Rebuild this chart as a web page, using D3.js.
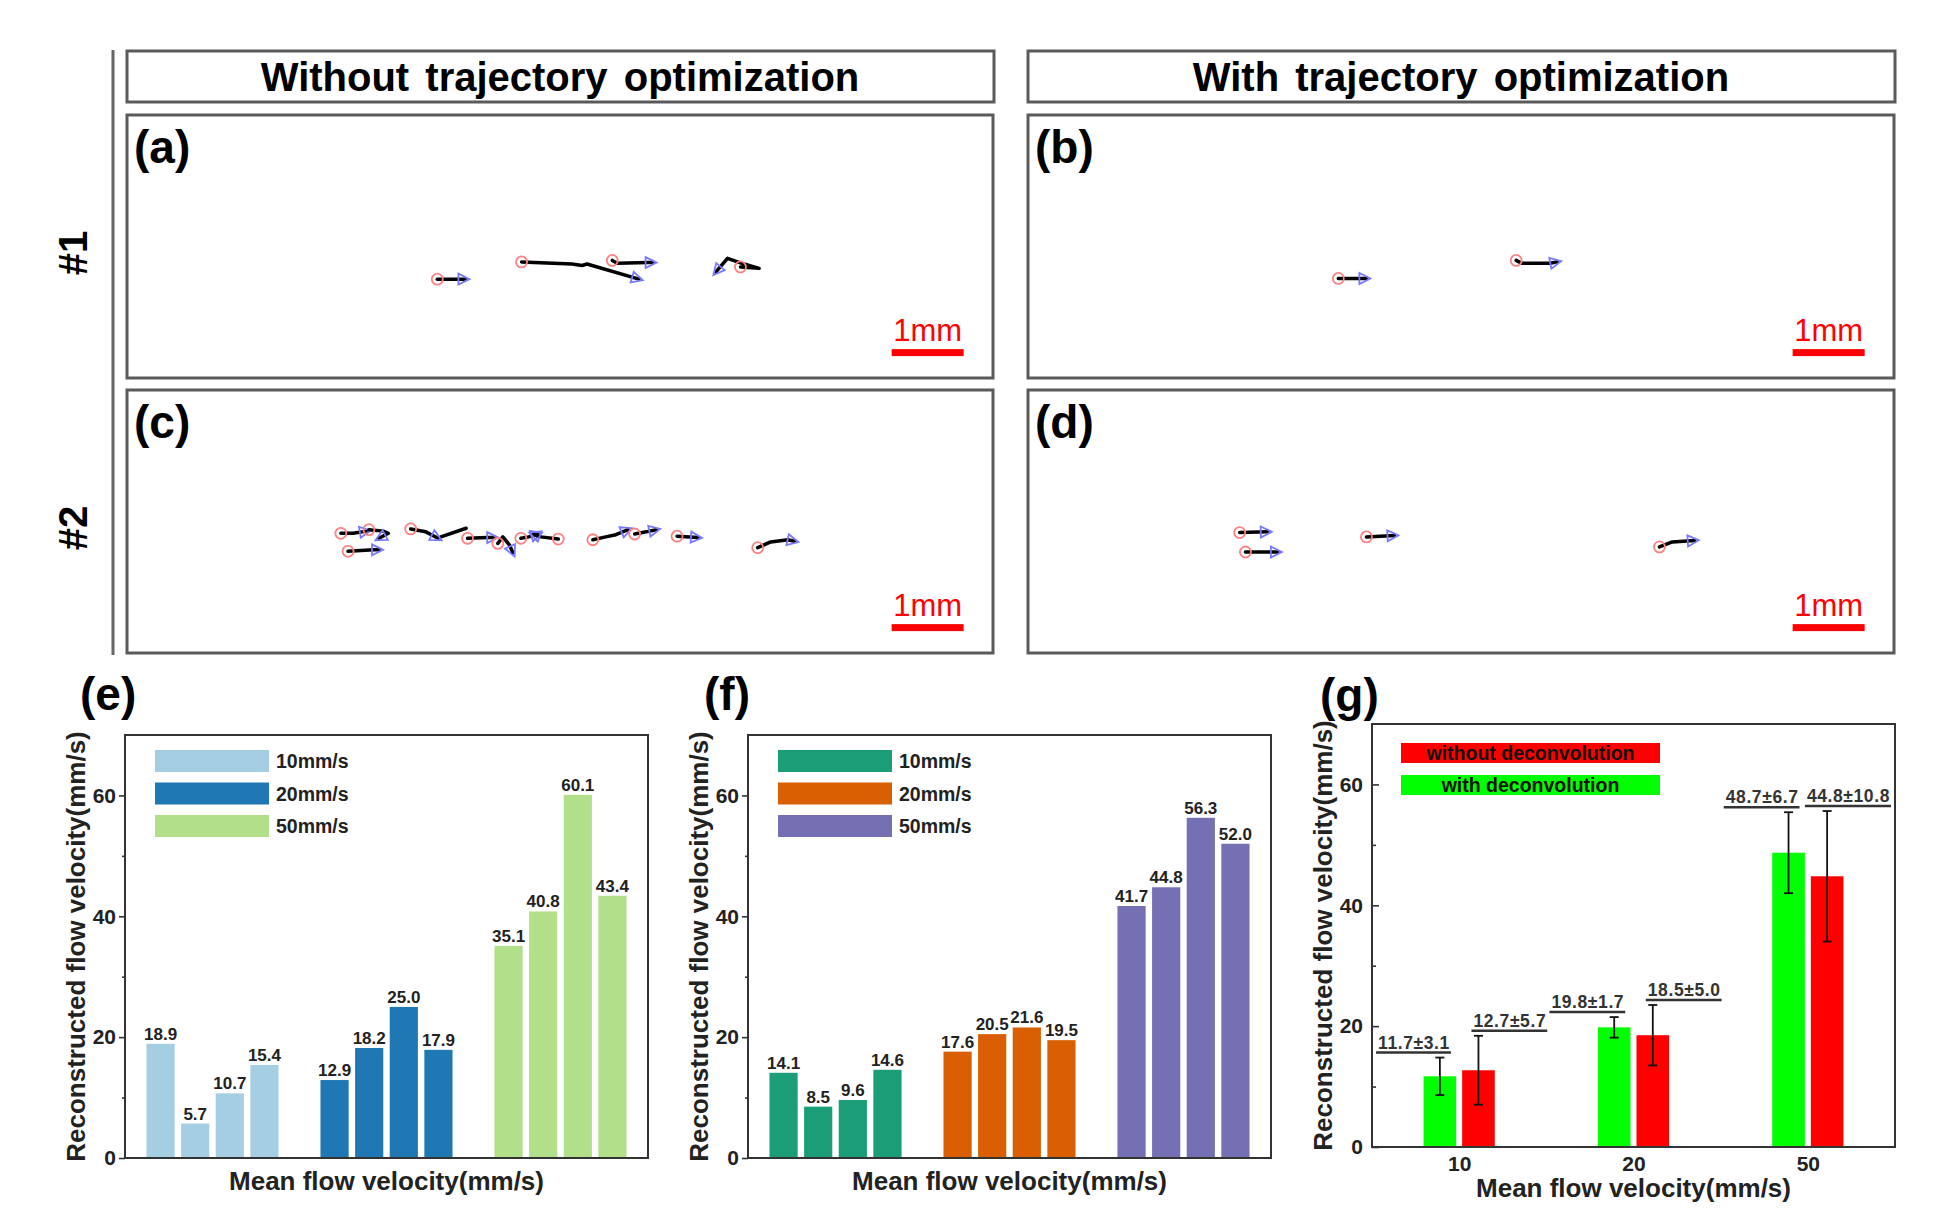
<!DOCTYPE html>
<html>
<head>
<meta charset="utf-8">
<script src="https://cdn.jsdelivr.net/npm/d3@7"></script>
<style>
  body { margin: 0; background: #fff; }
  text { font-family: "Liberation Sans", Arial, sans-serif; }
</style>
</head>
<body>
<svg id="fig" width="1934" height="1227"></svg>
<script>
// ---------- data ----------
const speeds = ["10mm/s", "20mm/s", "50mm/s"];
const repeats = [0, 1, 2, 3];
const velocityE = [[18.9, 5.7, 10.7, 15.4], [12.9, 18.2, 25.0, 17.9], [35.1, 40.8, 60.1, 43.4]];
const velocityF = [[14.1, 8.5, 9.6, 14.6], [17.6, 20.5, 21.6, 19.5], [41.7, 44.8, 56.3, 52.0]];
const yTicks = [0, 20, 40, 60];
const yMinor = [10, 30, 50];

const meanFlow = [10, 20, 50];
const withDeconv = [11.7, 19.8, 48.7];
const withDeconvErr = [3.1, 1.7, 6.7];
const withoutDeconv = [12.7, 18.5, 44.8];
const withoutDeconvErr = [5.7, 5.0, 10.8];

// particle trajectories, [x, y] in mm inside the field of view
const trajA = [
  [[4.31, 2.28], [4.70, 2.28]],
  [[5.48, 2.04], [6.18, 2.07], [6.32, 2.09], [6.39, 2.07], [6.46, 2.09], [7.11, 2.28]],
  [[6.74, 2.02], [6.81, 2.06], [7.23, 2.05], [7.30, 2.05]],
  [[8.52, 2.11], [8.78, 2.13], [8.57, 2.07], [8.34, 1.99], [8.18, 2.18]]
];
const trajB = [
  [[4.31, 2.27], [4.70, 2.27]],
  [[6.78, 2.02], [6.86, 2.06], [7.25, 2.06], [7.35, 2.04]]
];
const trajC = [
  [[2.97, 1.99], [3.14, 1.99], [3.33, 1.96]],
  [[3.36, 1.94], [3.56, 1.96], [3.63, 1.99], [3.50, 2.06]],
  [[3.07, 2.24], [3.43, 2.22], [3.50, 2.22]],
  [[3.94, 1.93], [4.15, 1.97], [4.32, 2.06]],
  [[4.73, 2.06], [5.01, 2.05], [5.10, 2.05]],
  [[5.15, 2.13], [5.22, 2.04], [5.31, 2.15], [5.36, 2.26]],
  [[5.47, 2.06], [5.58, 2.04], [5.71, 2.00]],
  [[5.99, 2.07], [5.75, 2.04], [5.64, 2.00]],
  [[6.47, 2.08], [6.65, 2.04], [6.79, 2.01], [6.96, 1.94]],
  [[7.05, 2.00], [7.21, 1.97], [7.35, 1.94]],
  [[7.64, 2.03], [7.93, 2.05]],
  [[8.76, 2.19], [8.94, 2.11], [9.18, 2.08], [9.27, 2.10]]
];
const strayC = [[[4.36, 2.04], [4.71, 1.92]]];
const trajD = [
  [[2.94, 1.98], [3.33, 1.97]],
  [[3.02, 2.25], [3.47, 2.25]],
  [[4.70, 2.04], [5.09, 2.02]],
  [[8.77, 2.18], [8.95, 2.11], [9.26, 2.09]]
];

const colorsE = ["#a6cee3", "#1f78b4", "#b2df8a"];
const colorsF = ["#1b9e77", "#d95f02", "#7570b3"];

// ---------- layout ----------
const svg = d3.select("#fig");
const PANEL_W = 866, PANEL_H = 263, PX_PER_MM = 72;
const FIELD_W = PANEL_W / PX_PER_MM, FIELD_H = PANEL_H / PX_PER_MM;
const bold = "bold";

// left divider
svg.append("line").attr("x1", 113).attr("x2", 113).attr("y1", 50).attr("y2", 655)
  .attr("stroke", "#666").attr("stroke-width", 3);

svg.append("text").attr("transform", "translate(87,253) rotate(-90)")
  .attr("text-anchor", "middle").attr("font-size", 40).attr("font-weight", bold).text("#1");
svg.append("text").attr("transform", "translate(87,528) rotate(-90)")
  .attr("text-anchor", "middle").attr("font-size", 40).attr("font-weight", bold).text("#2");

// header boxes
const headers = [
  {x: 127, text: "Without trajectory optimization"},
  {x: 1028, text: "With trajectory optimization"}
];
headers.forEach(h => {
  svg.append("rect").attr("x", h.x).attr("y", 51).attr("width", PANEL_W + 1).attr("height", 51)
    .attr("fill", "#fff").attr("stroke", "#5a5a5a").attr("stroke-width", 3);
  svg.append("text").attr("x", h.x + PANEL_W / 2).attr("y", 91).attr("text-anchor", "middle")
    .attr("font-size", 40).attr("font-weight", bold).attr("word-spacing", 5).text(h.text);
});

// trajectory panels
const panels = [
  {x: 127, y: 115, letter: "(a)", traj: trajA, stray: []},
  {x: 1028, y: 115, letter: "(b)", traj: trajB, stray: []},
  {x: 127, y: 390, letter: "(c)", traj: trajC, stray: strayC},
  {x: 1028, y: 390, letter: "(d)", traj: trajD, stray: []}
];

panels.forEach(p => {
  const w = PANEL_W, h = PANEL_H;
  const g = svg.append("g");
  g.append("rect").attr("x", p.x).attr("y", p.y).attr("width", w).attr("height", h)
    .attr("fill", "#fff").attr("stroke", "#5a5a5a").attr("stroke-width", 3);
  g.append("text").attr("x", p.x + 7).attr("y", p.y + 48).attr("font-size", 46)
    .attr("font-weight", bold).text(p.letter);

  const x = d3.scaleLinear().domain([0, FIELD_W]).range([p.x, p.x + w]);
  const y = d3.scaleLinear().domain([0, FIELD_H]).range([p.y, p.y + h]);
  const line = d3.line().x(d => x(d[0])).y(d => y(d[1]));

  g.selectAll("path.stray").data(p.stray).join("path").attr("class", "stray")
    .attr("d", line).attr("fill", "none").attr("stroke", "#000").attr("stroke-width", 3.5)
    .attr("stroke-linecap", "round");

  const tr = g.selectAll("g.tr").data(p.traj).join("g").attr("class", "tr");
  tr.append("path").attr("d", line).attr("fill", "none").attr("stroke", "#000")
    .attr("stroke-width", 3.5).attr("stroke-linejoin", "round").attr("stroke-linecap", "round");
  tr.append("circle")
    .attr("cx", d => x(d[0][0])).attr("cy", d => y(d[0][1])).attr("r", 5.5)
    .attr("fill", "none").attr("stroke", "#ff8080").attr("stroke-width", 1.8);
  tr.append("path")
    .attr("d", "M-7,-5.5L4,0L-7,5.5Z")
    .attr("transform", d => {
      const a = d[d.length - 2], b = d[d.length - 1];
      const ang = Math.atan2(y(b[1]) - y(a[1]), x(b[0]) - x(a[0])) * 180 / Math.PI;
      return `translate(${x(b[0])},${y(b[1])}) rotate(${ang})`;
    })
    .attr("fill", "none").attr("stroke", "#7878ff").attr("stroke-width", 1.8);

  // 1 mm scale bar
  g.append("rect").attr("x", x(10.62)).attr("y", y(3.3) - 3.5)
    .attr("width", x(11.62) - x(10.62)).attr("height", 7).attr("fill", "#ff0000");
  g.append("text").attr("x", (x(10.62) + x(11.62)) / 2).attr("y", y(3.3) - 12)
    .attr("text-anchor", "middle").attr("font-size", 31).attr("fill", "#ff0000").text("1mm");
});

// ---------- bar charts ----------
function yAxes(g, y, frame, inward) {
  const major = d3.axisLeft(y).tickValues(yTicks).tickSize(inward ? -7 : 6)
    .tickPadding(inward ? 9 : 3).tickFormat(d3.format("d"));
  const minor = d3.axisLeft(y).tickValues(yMinor).tickSize(inward ? -4 : 3).tickFormat("");
  const ax = g.append("g").attr("transform", `translate(${frame.x},0)`).call(major);
  const mx = g.append("g").attr("transform", `translate(${frame.x},0)`).call(minor);
  [ax, mx].forEach(a => {
    a.select(".domain").remove();
    a.selectAll("line").attr("stroke", "#333").attr("stroke-width", 1.6);
  });
  ax.selectAll("text").attr("font-size", 21).attr("font-weight", bold)
    .attr("fill", "#222").attr("font-family", "Liberation Sans, Arial, sans-serif");
}

function axisTitles(g, frame, xBase, yBase) {
  g.append("text").attr("x", frame.x + frame.w / 2).attr("y", xBase).attr("text-anchor", "middle")
    .attr("font-size", 26).attr("font-weight", bold).attr("fill", "#222")
    .text("Mean flow velocity(mm/s)");
  g.append("text").attr("transform", `translate(${yBase},${frame.y + frame.h / 2}) rotate(-90)`)
    .attr("text-anchor", "middle").attr("font-size", 26).attr("font-weight", bold).attr("fill", "#222")
    .text("Reconstructed flow velocity(mm/s)");
}

function groupedBars(frame, values, colors, letter, letterX) {
  const g = svg.append("g");
  const x0 = d3.scaleBand().domain(speeds).range([frame.x, frame.x + frame.w])
    .paddingInner(0.241).paddingOuter(0.1235);
  const x1 = d3.scaleBand().domain(repeats).range([0, x0.bandwidth()]).paddingInner(0.186);
  const y = d3.scaleLinear().domain([0, 70]).range([frame.y + frame.h, frame.y]);

  const grp = g.selectAll("g.grp").data(speeds).join("g").attr("class", "grp")
    .attr("transform", s => `translate(${x0(s)},0)`);
  grp.selectAll("rect").data((s, i) => values[i].map(v => ({v, c: colors[i]}))).join("rect")
    .attr("x", (d, j) => x1(j)).attr("width", x1.bandwidth())
    .attr("y", d => y(d.v)).attr("height", d => y(0) - y(d.v)).attr("fill", d => d.c);
  grp.selectAll("text").data((s, i) => values[i]).join("text")
    .attr("x", (d, j) => x1(j) + x1.bandwidth() / 2).attr("y", d => y(d) - 4)
    .attr("text-anchor", "middle").attr("font-size", 17).attr("font-weight", bold).attr("fill", "#222")
    .text(d => d3.format(".1f")(d));

  // legend
  const lg = g.selectAll("g.lg").data(speeds).join("g").attr("class", "lg")
    .attr("transform", (s, i) => `translate(${frame.x + 30},${frame.y + 15 + i * 32.5})`);
  lg.append("rect").attr("width", 114).attr("height", 22).attr("fill", (s, i) => colors[i]);
  lg.append("text").attr("x", 121).attr("y", 18).attr("font-size", 19.5).attr("font-weight", bold)
    .attr("fill", "#222").text(s => s);

  g.append("rect").attr("x", frame.x).attr("y", frame.y).attr("width", frame.w).attr("height", frame.h)
    .attr("fill", "none").attr("stroke", "#333").attr("stroke-width", 2);
  yAxes(g, y, frame, false);
  axisTitles(g, frame, 1190, frame.x - 40);
  g.append("text").attr("x", letterX).attr("y", 710).attr("font-size", 46).attr("font-weight", bold)
    .text(letter);
}

groupedBars({x: 125, y: 735, w: 523, h: 423}, velocityE, colorsE, "(e)", 80);
groupedBars({x: 748, y: 735, w: 523, h: 423}, velocityF, colorsF, "(f)", 704);

// ---------- (g) error-bar chart ----------
(function () {
  const frame = {x: 1372, y: 724, w: 523, h: 423};
  const g = svg.append("g");
  const x = d3.scalePoint().domain(meanFlow).range([frame.x, frame.x + frame.w]).padding(0.5);
  const xs = d3.scaleBand().domain(["with", "without"]).range([-35.6, 35.6]).paddingInner(0.155);
  const y = d3.scaleLinear().domain([0, 70]).range([frame.y + frame.h, frame.y]);

  const series = [
    {key: "with", vals: withDeconv, errs: withDeconvErr, color: "#00ff00"},
    {key: "without", vals: withoutDeconv, errs: withoutDeconvErr, color: "#ff0000"}
  ];
  const bars = [];
  series.forEach(s => s.vals.forEach((v, i) => bars.push({
    key: s.key, v, e: s.errs[i], color: s.color,
    cx: x(meanFlow[i]) + xs(s.key) + xs.bandwidth() / 2
  })));

  g.selectAll("rect.bar").data(bars).join("rect").attr("class", "bar")
    .attr("x", d => d.cx - xs.bandwidth() / 2).attr("width", xs.bandwidth())
    .attr("y", d => y(d.v)).attr("height", d => y(0) - y(d.v)).attr("fill", d => d.color);

  const eb = g.selectAll("g.eb").data(bars).join("g").attr("class", "eb")
    .attr("stroke", "#111").attr("stroke-width", 1.8);
  eb.append("line").attr("x1", d => d.cx).attr("x2", d => d.cx)
    .attr("y1", d => y(d.v - d.e)).attr("y2", d => y(d.v + d.e));
  eb.append("line").attr("x1", d => d.cx - 4.5).attr("x2", d => d.cx + 4.5)
    .attr("y1", d => y(d.v - d.e)).attr("y2", d => y(d.v - d.e));
  eb.append("line").attr("x1", d => d.cx - 4.5).attr("x2", d => d.cx + 4.5)
    .attr("y1", d => y(d.v + d.e)).attr("y2", d => y(d.v + d.e));

  // value ± error annotations, underlined
  bars.forEach(d => {
    const base = y(d.v + d.e) - 9;
    const t = g.append("text").attr("y", base).attr("font-size", 17.5).attr("font-weight", bold)
      .attr("letter-spacing", 0.6).attr("fill", "#333")
      .text(`${d3.format(".1f")(d.v)}±${d3.format(".1f")(d.e)}`);
    const len = t.node().getComputedTextLength();
    let x0 = d.key === "with" ? d.cx + 10 - len : d.cx - 5;
    x0 = Math.min(x0, frame.x + frame.w - 5 - len);
    t.attr("x", x0);
    g.append("line").attr("x1", x0 - 2).attr("x2", x0 + len + 1).attr("y1", base + 4).attr("y2", base + 4)
      .attr("stroke", "#333").attr("stroke-width", 2.5);
  });

  // legend
  const leg = g.selectAll("g.lg").data([series[1], series[0]]).join("g").attr("class", "lg")
    .attr("transform", (s, i) => `translate(${frame.x + 29},${frame.y + 19 + i * 32})`);
  leg.append("rect").attr("width", 259).attr("height", 20).attr("fill", s => s.color);
  leg.append("text").attr("x", 129.5).attr("y", 16.5).attr("text-anchor", "middle")
    .attr("font-size", 19.5).attr("font-weight", bold).attr("fill", "#111")
    .text(s => s.key === "with" ? "with deconvolution" : "without deconvolution");

  g.append("rect").attr("x", frame.x).attr("y", frame.y).attr("width", frame.w).attr("height", frame.h)
    .attr("fill", "none").attr("stroke", "#333").attr("stroke-width", 2);
  yAxes(g, y, frame, true);
  const xa = g.append("g").attr("transform", `translate(0,${frame.y + frame.h})`)
    .call(d3.axisBottom(x).tickSize(0).tickPadding(9));
  xa.select(".domain").remove();
  xa.selectAll("text").attr("font-size", 21).attr("font-weight", bold).attr("fill", "#222")
    .attr("font-family", "Liberation Sans, Arial, sans-serif");
  axisTitles(g, frame, 1197, frame.x - 40);
  g.append("text").attr("x", 1320).attr("y", 711).attr("font-size", 46).attr("font-weight", bold)
    .text("(g)");
})();
</script>
</body>
</html>
